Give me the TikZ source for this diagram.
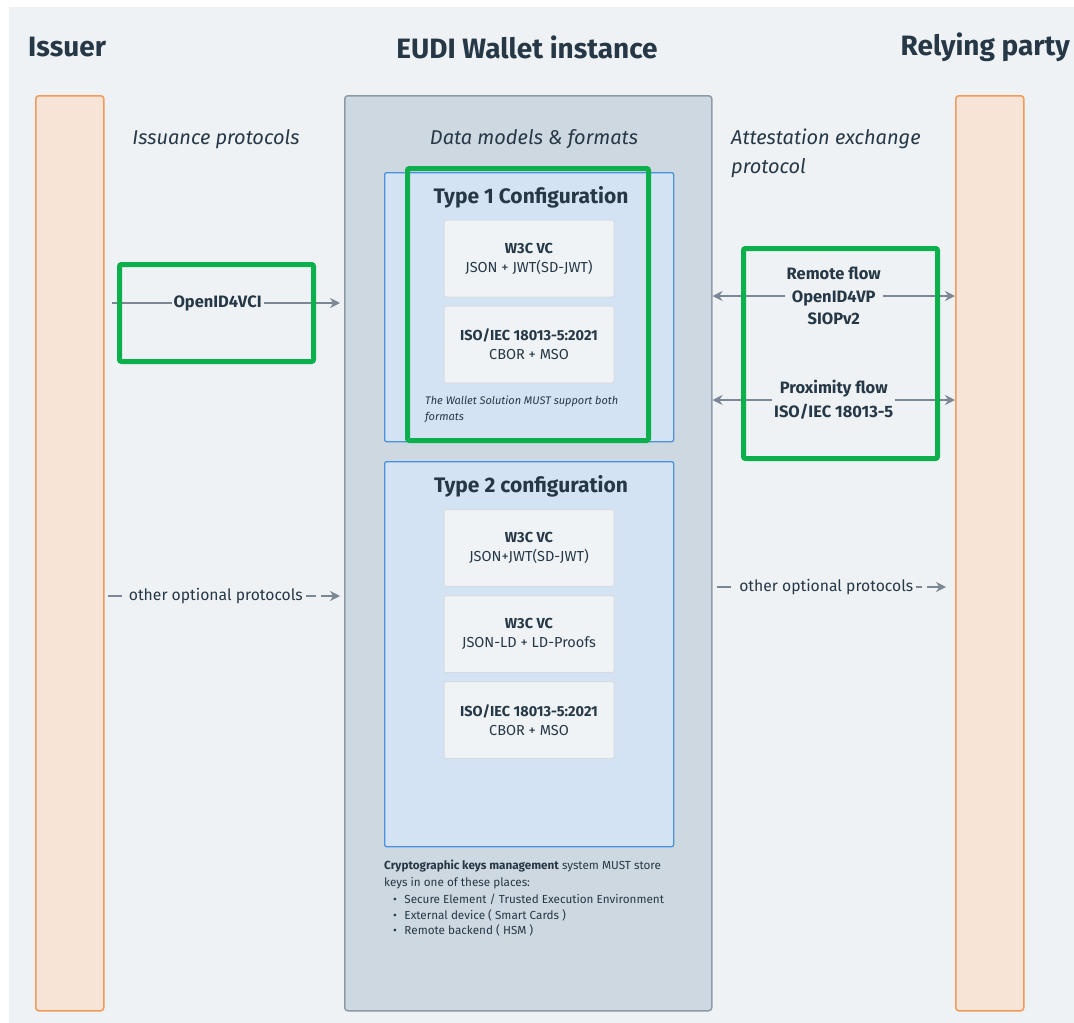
\documentclass[tikz,border=0pt]{standalone}
\usepackage{fontspec}
\setmainfont{Fira Sans}
\usetikzlibrary{arrows.meta}

\definecolor{canvas}{HTML}{EEF2F5}
\definecolor{ink}{HTML}{263746}
\definecolor{partyfill}{HTML}{F8E4D7}
\definecolor{partyline}{HTML}{F09A5B}
\definecolor{walletfill}{HTML}{CED8E0}
\definecolor{walletline}{HTML}{8E9BA7}
\definecolor{conffill}{HTML}{D3E3F3}
\definecolor{confline}{HTML}{4A92DF}
\definecolor{fmtfill}{HTML}{EFF3F6}
\definecolor{fmtline}{HTML}{D6DBE0}
\definecolor{flow}{HTML}{7B8794}
\definecolor{mark}{HTML}{0BAF4C}

\newcommand{\fs}[1]{\fontsize{#1}{#1}\selectfont}
\newcommand{\fsl}[2]{\fontsize{#1}{#2}\selectfont}

\tikzset{
  party/.style={draw=partyline, fill=partyfill, line width=1.5pt, rounded corners=3pt,
    anchor=north west, minimum width=68pt, minimum height=915pt, inner sep=0pt},
  walletbox/.style={draw=walletline, fill=walletfill, line width=1.5pt, rounded corners=3pt,
    anchor=north west, inner sep=0pt},
  confbox/.style={draw=confline, fill=conffill, line width=1.3pt, rounded corners=2pt,
    anchor=north west, inner sep=0pt, minimum width=289pt},
  fmtbox/.style={draw=fmtline, fill=fmtfill, line width=1pt, rounded corners=2pt,
    minimum width=170pt, minimum height=77pt, align=center, text=ink,
    font=\fs{14.5}, inner sep=0pt},
  highlight/.style={draw=mark, line width=5pt, rounded corners=2pt, anchor=north west,
    inner sep=0pt},
  heading/.style={text=ink, font=\fs{28}\bfseries, inner sep=0pt},
  subhead/.style={text=ink, font=\fs{20}\itshape, inner sep=0pt},
  conftitle/.style={text=ink, font=\fs{21}\bfseries, inner sep=0pt},
  flowlabel/.style={fill=canvas, text=ink, font=\fs{16.5}\bfseries, align=center,
    inner xsep=2pt, inner ysep=1pt},
  optlabel/.style={fill=canvas, text=ink, font=\fs{15.7}, inner xsep=3pt, inner ysep=1pt},
  tip/.style={Stealth[length=10pt,width=10pt]},
  oneway/.style={draw=flow, line width=2.8pt, -{Stealth[length=10pt,width=10pt]}},
  twoway/.style={draw=flow, line width=2.8pt,
    {Stealth[length=10pt,width=10pt]}-{Stealth[length=10pt,width=10pt]}},
  optway/.style={draw=flow, line width=2.8pt, -{Stealth[length=10pt,width=10pt]}},
}

\begin{document}
\begin{tikzpicture}[x=1pt,y=-1pt]
\useasboundingbox (0,0) rectangle (1074,1023);
\fill[white] (0,0) rectangle (1074,1023);
\fill[canvas] (9,7) rectangle (1074,1023);

% column headings
\node[heading, anchor=west] (hIssuer) at (28,47) {Issuer};
\node[heading] (hWallet) at (527,47) {EUDI Wallet instance};
\node[heading, anchor=east] (hRP) at (1070,47) {Relying party};

% the three columns
\node[party] (issuer) at (35,95) {};
\node[party] (rp) at (955,95) {};
\node[walletbox, minimum width=367pt, minimum height=915pt] (wallet) at (344,95) {};

% column sub-headings
\node[subhead] (issProt) at (216,139) {Issuance protocols};
\node[subhead] (dataFmt) at (534,139) {Data models \& formats};
\node[subhead, anchor=north west, align=left, font={\fsl{20}{29}\itshape}] (attProt) at (731,129) {Attestation exchange\\protocol};

% Type 1 configuration
\node[confbox, minimum height=269pt] (conf1) at (384,172) {};
\node[conftitle] (conf1t) at (531,197) {Type 1 Configuration};
\node[fmtbox] (c1a) at (529,258.5) {\textbf{W3C VC}\\[4.5pt]JSON + JWT(SD-JWT)};
\node[fmtbox] (c1b) at (529,344.5) {\textbf{ISO/IEC 18013-5:2021}\\[4.5pt]CBOR + MSO};
\node[anchor=north west, text=ink, font=\fs{11}\itshape, align=left, inner sep=0pt] (c1note)
  at (425,396) {The Wallet Solution MUST support both\\[5pt]formats};

% Type 2 configuration
\node[confbox, minimum height=385pt] (conf2) at (384,461) {};
\node[conftitle] (conf2t) at (531,486) {Type 2 configuration};
\node[fmtbox] (c2a) at (529,548) {\textbf{W3C VC}\\[4.5pt]JSON+JWT(SD-JWT)};
\node[fmtbox] (c2b) at (529,634) {\textbf{W3C VC}\\[4.5pt]JSON-LD + LD-Proofs};
\node[fmtbox] (c2c) at (529,720) {\textbf{ISO/IEC 18013-5:2021}\\[4.5pt]CBOR + MSO};

% key storage note
\node[anchor=north west, text=ink, font=\fs{11.7}, align=left, inner sep=0pt] (keys) at (384,860)
  {\textbf{Cryptographic keys management} system MUST store\\[4pt]
   keys in one of these places:\\[4pt]
   \hspace*{9pt}\textbullet\hspace{7.5pt}Secure Element / Trusted Execution Environment\\[4pt]
   \hspace*{9pt}\textbullet\hspace{7.5pt}External device ( Smart Cards )\\[4pt]
   \hspace*{9pt}\textbullet\hspace{7.5pt}Remote backend ( HSM )};

% issuance flows
\coordinate (vciS) at (112,303);
\coordinate (vciE) at (wallet.west |- vciS);
\draw[oneway, shorten >=4pt] (vciS) -- node[flowlabel, pos=0.455] (vci) {OpenID4VCI} (vciE);

\coordinate (oiS) at (108,596);
\coordinate (oiE) at (wallet.west |- oiS);
\draw[optway, dash pattern=on 14pt off 5.4pt, shorten >=4pt] (oiS) --
  node[optlabel, pos=0.457] (oi) {other optional protocols} (oiE);

% presentation flows
\coordinate (rmL) at (wallet.east |- 0,296);
\coordinate (rmR) at (rp.west |- 0,296);
\draw[twoway] (rmL) -- node[flowlabel] (rm) {Remote flow\\[6pt]OpenID4VP\\[6pt]SIOPv2} (rmR);

\coordinate (pxL) at (wallet.east |- 0,400);
\coordinate (pxR) at (rp.west |- 0,400);
\draw[twoway] (pxL) -- node[flowlabel] (px) {Proximity flow\\[5.5pt]ISO/IEC 18013-5} (pxR);

\coordinate (orS) at (717,587);
\coordinate (orE) at (rp.west |- orS);
\draw[optway, dash pattern=on 13.5pt off 5.6pt, shorten >=9pt] (orS) --
  node[optlabel, pos=0.459] (or) {other optional protocols} (orE);

% highlight frames
\node[highlight, minimum width=241pt, minimum height=272pt] (hl1) at (405,166) {};
\node[highlight, minimum width=194pt, minimum height=97pt] (hl2) at (117,262) {};
\node[highlight, minimum width=194pt, minimum height=210pt] (hl3) at (741,246) {};
\end{tikzpicture}
\end{document}
